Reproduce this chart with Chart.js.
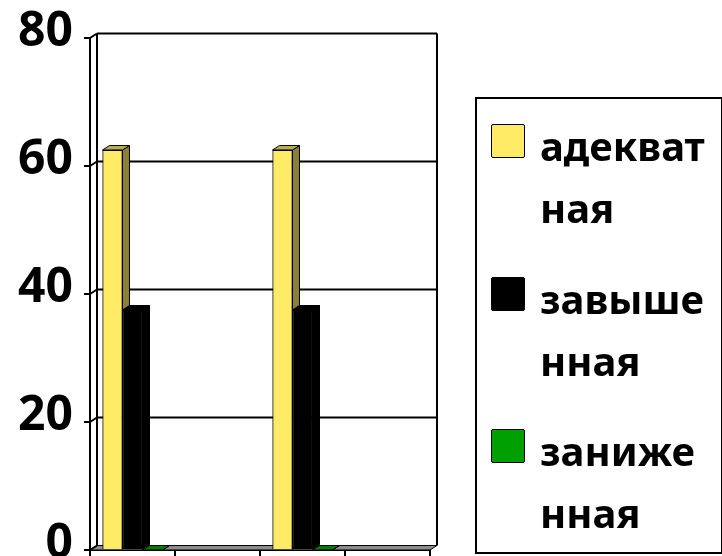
<!DOCTYPE html>
<html>
<head>
<meta charset="utf-8">
<script src="https://cdn.jsdelivr.net/npm/chart.js@4.4.1/dist/chart.umd.min.js"></script>
<style>
  html, body { margin: 0; padding: 0; background: #fff; overflow: hidden; }
  #wrap { position: relative; width: 722px; height: 556px; }
  #legend {
    position: absolute; left: 475px; top: 97px; width: 244px; height: 453px;
    border: 2px solid #000; box-sizing: content-box;
    font-family: "Noto Sans", sans-serif; font-weight: bold; font-size: 40px; color: #000;
  }
  .item { position: absolute; left: 0; width: 244px; height: 130px; }
  .swatch { position: absolute; left: 14px; top: 9px; width: 32px; height: 32px; border: 1.5px solid #000; border-radius: 2px; }
  .txt { position: absolute; left: 63px; top: 0; width: 4.25em; line-height: 62px; word-break: break-all; }
</style>
</head>
<body>
<div id="wrap">
  <canvas id="myChart"></canvas>
  <div id="legend"></div>
</div>
<script>
const categories = ["", "", "", ""];
const seriesNames = ["адекватная", "завышенная", "заниженная"];
const adequate = [62.5, null, 62.5, null];
const inflated = [37.5, null, 37.5, null];
const lowered = [0, null, 0, null];
const yTicks = [0, 20, 40, 60, 80];

const frontColors = ["#ffeb66", "#000000", "#00a000"];
const sideColors = ["#8a803a", "#000000", "#006000"];
const topColors = ["#b9ae4c", "#000000", "#007a00"];

// depth of the 3D look
const dx = 7;
const dy = -4.5;

function line(ctx, x1, y1, x2, y2) {
    ctx.beginPath();
    ctx.moveTo(x1, y1);
    ctx.lineTo(x2, y2);
    ctx.stroke();
}

function poly(ctx, pts, fill) {
    ctx.beginPath();
    ctx.moveTo(pts[0][0], pts[0][1]);
    pts.slice(1).forEach(p => ctx.lineTo(p[0], p[1]));
    ctx.closePath();
    ctx.fillStyle = fill;
    ctx.fill();
    ctx.stroke();
}

const wall3d = {
    id: "wall3d",
    beforeDatasetsDraw(chart) {
        const { ctx, chartArea: a, scales: { y } } = chart;
        ctx.save();
        ctx.strokeStyle = "#000";
        // floor
        ctx.lineWidth = 1;
        poly(ctx, [[a.left, a.bottom], [a.left + dx, a.bottom + dy], [a.right + dx, a.bottom + dy], [a.right, a.bottom]], "#8c8c8c");
        ctx.lineWidth = 2;
        // back wall grid lines
        y.ticks.forEach(t => {
            const py = y.getPixelForValue(t.value);
            line(ctx, a.left, py, a.left + dx, py + dy);
            if (t.value > 0) line(ctx, a.left + dx, py + dy, a.right + dx, py + dy);
        });
        // back wall edges
        line(ctx, a.left + dx, a.top + dy, a.left + dx, a.bottom + dy);
        line(ctx, a.right + dx, a.top + dy, a.right + dx, a.bottom + dy);
        ctx.restore();
    },
    afterDatasetsDraw(chart) {
        const ctx = chart.ctx;
        ctx.save();
        ctx.strokeStyle = "#000";
        ctx.lineWidth = 1;
        chart.data.datasets.forEach((ds, i) => {
            const meta = chart.getDatasetMeta(i);
            meta.data.forEach((el, j) => {
                if (ds.data[j] === null) return;
                const p = el.getProps(["x", "y", "base", "width"], true);
                const l = p.x - p.width / 2;
                const r = p.x + p.width / 2;
                poly(ctx, [[r, p.y], [r + dx, p.y + dy], [r + dx, p.base + dy], [r, p.base]], sideColors[i]);
                poly(ctx, [[l, p.y], [l + dx, p.y + dy], [r + dx, p.y + dy], [r, p.y]], topColors[i]);
                el.draw(ctx);
            });
        });
        ctx.restore();
    }
};

const ctx = document.getElementById("myChart");

const chart = new Chart(ctx, {
    type: "bar",
    data: {
        labels: categories,
        datasets: [adequate, inflated, lowered].map((d, i) => ({
            label: seriesNames[i],
            data: d,
            backgroundColor: frontColors[i],
            borderColor: "#000",
            borderWidth: 1,
            categoryPercentage: 0.706,
            barPercentage: 1
        }))
    },
    options: {
        responsive: true,
        maintainAspectRatio: false,
        animation: false,
        layout: { padding: { top: 38, right: 292, left: 0, bottom: 0 } },
        plugins: {
            legend: { display: false },
            tooltip: { enabled: false }
        },
        scales: {
            x: {
                offset: true,
                grid: { drawOnChartArea: false, tickLength: 6, color: "#000", lineWidth: 2, offset: true },
                border: { display: true, color: "#000", width: 2 },
                ticks: { display: false },
                afterFit(s) { s.height = 6; s.paddingLeft = 0; s.paddingRight = 0; }
            },
            y: {
                min: 0,
                max: 80,
                afterBuildTicks(s) { s.ticks = yTicks.map(v => ({ value: v })); },
                grid: { drawOnChartArea: false, tickLength: 6, color: "#000", lineWidth: 2 },
                border: { display: true, color: "#000", width: 2 },
                ticks: {
                    color: "#000",
                    padding: 11,
                    labelOffset: -6,
                    font: { family: "Noto Sans", weight: "bold", size: 48 }
                },
                afterFit(s) { s.width = 90; s.paddingTop = 0; s.paddingBottom = 0; }
            }
        }
    },
    plugins: [wall3d]
});

// legend built from the chart datasets
const legend = document.getElementById("legend");
chart.data.datasets.forEach((ds, i) => {
    const item = document.createElement("div");
    item.className = "item";
    item.style.top = (16 + i * 152.5) + "px";
    item.innerHTML = `<div class="swatch" style="background:${ds.backgroundColor}"></div><div class="txt">${ds.label}</div>`;
    legend.appendChild(item);
});
</script>
</body>
</html>
